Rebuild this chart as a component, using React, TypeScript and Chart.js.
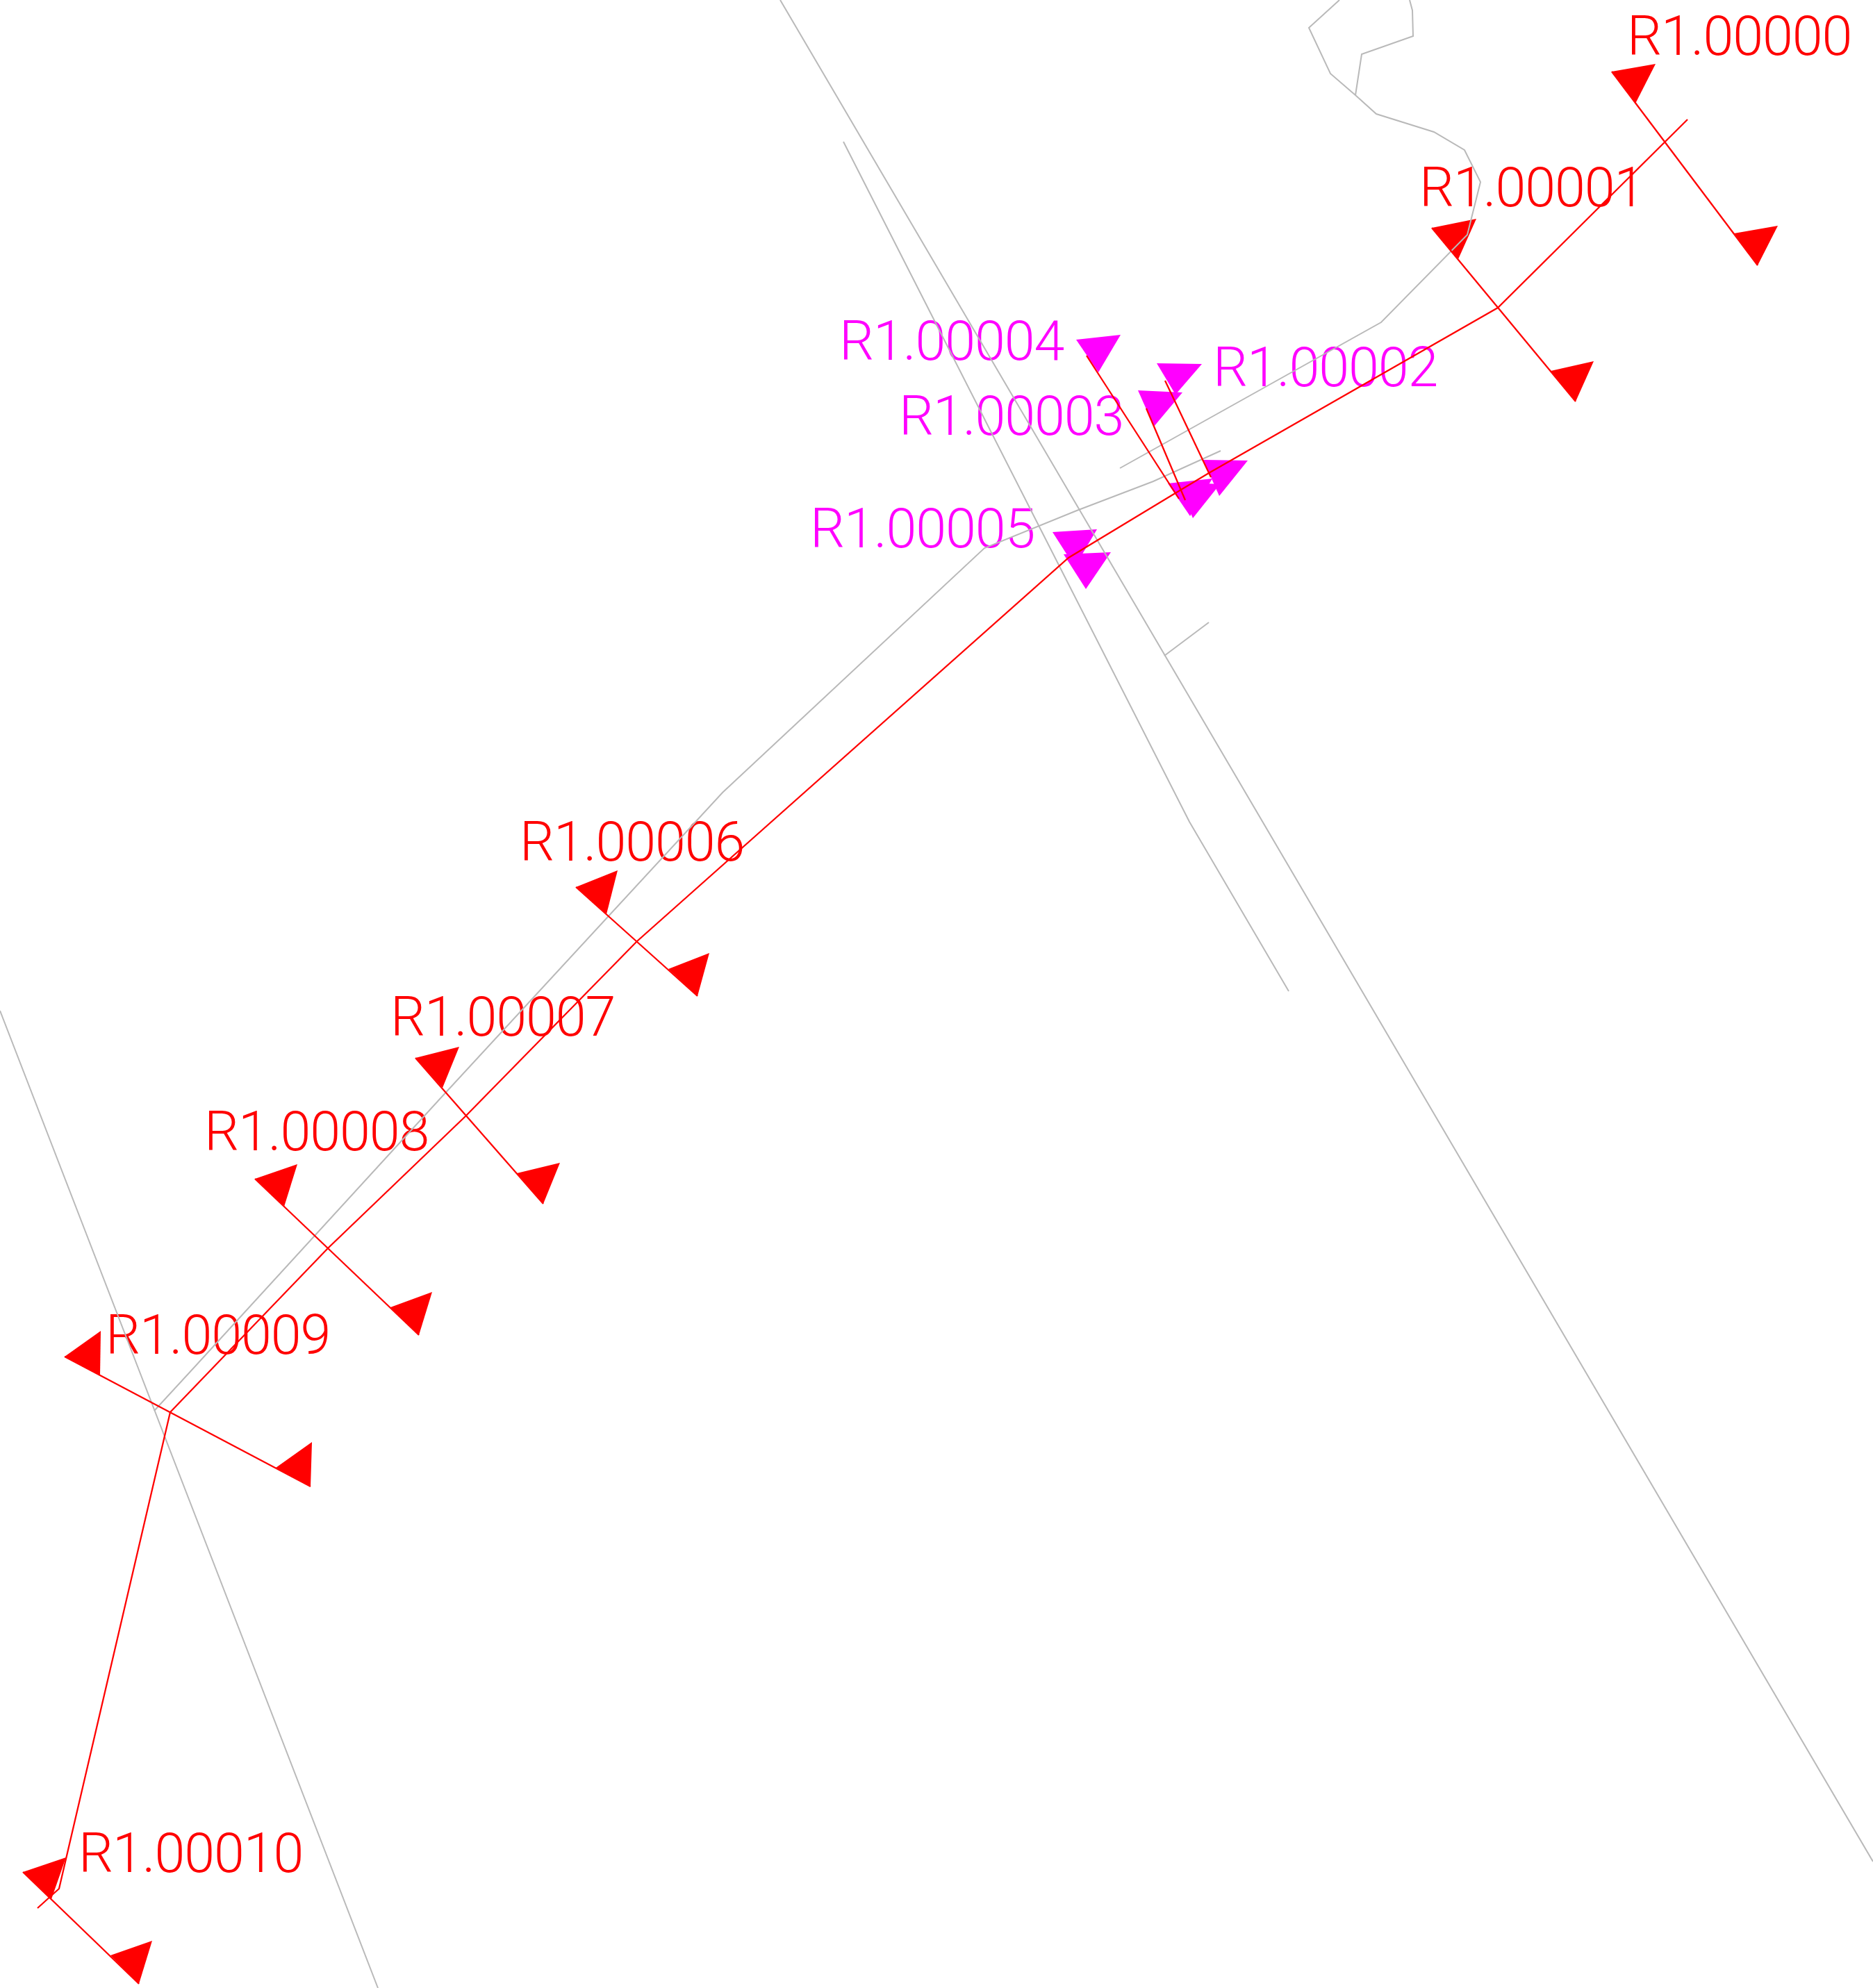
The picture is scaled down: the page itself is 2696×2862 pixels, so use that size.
import React, { useEffect, useRef } from "react";
import { Chart, registerables } from "chart.js";

Chart.register(...registerables);

const WIDTH = 2696;
const HEIGHT = 2862;

const RED = "#ff0000";
const MAGENTA = "#ff00ff";
const GRAY = "#b9b9b9";

// Map geometry, in map units: [x, y, x, y, ...]
const bankEast = [1123, 0, 2696, 2680];
const bankInner = [1214, 204, 1712, 1183, 1855, 1427];
const bankWest = [0, 1455, 544, 2862];
const tributaryMain = [1928, 0, 1884, 40, 1915, 106, 1951, 137, 1981, 164, 2064, 190, 2108, 216, 2131, 262, 2112, 338, 1988, 464, 1612, 674];
const tributaryBranch = [2029, 0, 2033, 15, 2034, 52, 1960, 78, 1951, 137];
const channelBank = [222, 2031, 280, 1968, 635, 1580, 1040, 1141, 1417, 789, 1550, 735, 1660, 693, 1757, 649];
const stub = [1676, 944, 1740, 896];
const grayLines = [bankEast, bankInner, bankWest, tributaryMain, tributaryBranch, channelBank, stub];

const reach = [2429, 172, 2156, 443, 1740, 681, 1700, 705, 1538, 803, 917, 1355, 670, 1607, 472, 1797, 245, 2033, 85, 2719, 54, 2747];

const stations = ["R1.00000", "R1.00001", "R1.00002", "R1.00003", "R1.00004", "R1.00005", "R1.00006", "R1.00007", "R1.00008", "R1.00009", "R1.00010"];
const labelX = [2342, 2043, 1746, 1294, 1208, 1166, 748, 562, 294, 152, 113];
const labelBase = [79, 297, 556, 626, 518, 788, 1239, 1491, 1656, 1949, 2695];
const stationIsMagenta = [false, false, true, true, true, true, false, false, false, false, false];

const sectionLines = [
  [2320, 103, 2530, 382],
  [2061, 328, 2268, 578],
  [1677, 548, 1743, 687],
  [1650, 588, 1706, 720],
  [1564, 512, 1697, 718],
  [],
  [829, 1277, 1004, 1434],
  [598, 1523, 782, 1733],
  [367, 1697, 603, 1922],
  [93, 1953, 447, 2140],
  [33, 2695, 200, 2856],
];

const upstreamFlags = [
  [2320, 103, 2383, 92, 2354, 149],
  [2061, 328, 2125, 315, 2099, 373],
  [1665, 523, 1730, 524, 1692, 568],
  [1638, 562, 1702, 565, 1661, 614],
  [1549, 489, 1613, 482, 1581, 536],
  [1515, 766, 1579, 762, 1547, 816],
  [829, 1277, 889, 1253, 873, 1316],
  [598, 1523, 661, 1507, 637, 1566],
  [367, 1697, 428, 1676, 409, 1737],
  [93, 1953, 145, 1916, 144, 1980],
  [33, 2695, 95, 2674, 74, 2734],
];

const downstreamFlags = [
  [2496, 336, 2559, 325, 2530, 382],
  [2232, 534, 2294, 520, 2268, 578],
  [1732, 662, 1796, 663, 1755, 714],
  [1694, 694, 1756, 697, 1717, 746],
  [1681, 696, 1745, 689, 1713, 743],
  [1531, 798, 1599, 795, 1563, 848],
  [962, 1395, 1021, 1372, 1004, 1434],
  [744, 1689, 806, 1674, 782, 1733],
  [562, 1882, 622, 1860, 603, 1922],
  [397, 2113, 449, 2076, 447, 2140],
  [159, 2815, 219, 2794, 200, 2856],
];

const toPoints = (flat: number[]) => {
  const pts: { x: number; y: number }[] = [];
  for (let i = 0; i + 1 < flat.length; i += 2) pts.push({ x: flat[i], y: flat[i + 1] });
  return pts;
};

const lineDataset = (flat: number[], color: string, width: number, order: number) => ({
  data: toPoints(flat),
  showLine: true,
  borderColor: color,
  borderWidth: width,
  pointRadius: 0,
  fill: false,
  tension: 0,
  order,
});

const flagDataset = (flat: number[], color: string) => ({
  data: toPoints(flat),
  showLine: true,
  borderColor: color,
  borderWidth: 0,
  backgroundColor: color,
  pointRadius: 0,
  fill: "shape",
  tension: 0,
  order: 3,
});

const stationLabels = {
  id: "stationLabels",
  beforeDatasetsDraw(chart: any) {
    const { ctx, scales } = chart;
    ctx.save();
    ctx.font = "300 79px Roboto";
    (ctx as any).letterSpacing = "-1.1px";
    ctx.textBaseline = "alphabetic";
    ctx.textAlign = "left";
    stations.forEach((name, i) => {
      ctx.fillStyle = stationIsMagenta[i] ? MAGENTA : RED;
      ctx.fillText(name, scales.x.getPixelForValue(labelX[i]), scales.y.getPixelForValue(labelBase[i]));
    });
    ctx.restore();
  },
};

export default function App() {
  const ref = useRef<HTMLCanvasElement>(null);
  useEffect(() => {
    if (!ref.current) return;
    const datasets: any[] = [];
    stations.forEach((_, i) => {
      const c = stationIsMagenta[i] ? MAGENTA : RED;
      datasets.push(flagDataset(upstreamFlags[i], c));
      datasets.push(flagDataset(downstreamFlags[i], c));
    });
    grayLines.forEach((g) => datasets.push(lineDataset(g, GRAY, 2, 2)));
    sectionLines.forEach((s) => {
      if (s.length) datasets.push(lineDataset(s, RED, 2.3, 1));
    });
    datasets.push(lineDataset(reach, RED, 2.3, 0));
    const chart = new Chart(ref.current, {
      type: "scatter",
      data: { datasets },
      options: {
        animation: false,
        responsive: false,
        layout: { padding: 0 },
        plugins: { legend: { display: false }, tooltip: { enabled: false }, title: { display: false } },
        scales: {
          x: { type: "linear", min: 0, max: WIDTH, display: false },
          y: { type: "linear", min: 0, max: HEIGHT, reverse: true, display: false },
        },
      },
      plugins: [stationLabels],
    } as any);
    return () => chart.destroy();
  }, []);
  return (
    <canvas
      ref={ref}
      width={WIDTH}
      height={HEIGHT}
      style={{ position: "absolute", left: 0, top: 0, width: WIDTH, height: HEIGHT, display: "block" }}
    />
  );
}
